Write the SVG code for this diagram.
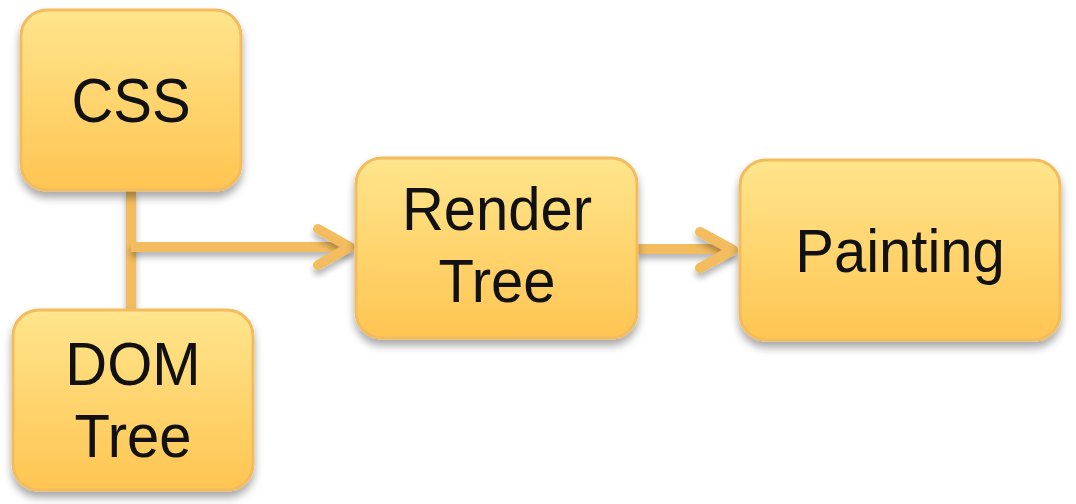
<svg xmlns="http://www.w3.org/2000/svg" width="1076" height="504" viewBox="0 0 1076 504">
<defs>
<linearGradient id="g" x1="0" y1="0" x2="0" y2="1">
<stop offset="0" stop-color="#FFE58C"/>
<stop offset="1" stop-color="#FFC552"/>
</linearGradient>
<filter id="sh" x="-10%" y="-10%" width="120%" height="130%">
<feGaussianBlur in="SourceAlpha" stdDeviation="4"/>
<feOffset dx="0" dy="6" result="b"/>
<feComponentTransfer><feFuncA type="linear" slope="0.35"/></feComponentTransfer>
<feMerge><feMergeNode/><feMergeNode in="SourceGraphic"/></feMerge>
</filter>
<filter id="shl" filterUnits="userSpaceOnUse" x="0" y="0" width="1076" height="504">
<feGaussianBlur in="SourceAlpha" stdDeviation="3"/>
<feOffset dx="0" dy="5" result="b"/>
<feComponentTransfer><feFuncA type="linear" slope="0.3"/></feComponentTransfer>
<feMerge><feMergeNode/><feMergeNode in="SourceGraphic"/></feMerge>
</filter>
</defs>
<style>
.box{fill:url(#g);stroke:#F2BC5E;stroke-width:3;filter:url(#sh)}
.t{font-family:"Liberation Sans",Arial,sans-serif;font-size:58px;fill:#111;text-anchor:middle}
.c{fill:none;stroke:#F2BC5E;stroke-width:10;stroke-linecap:butt;filter:url(#shl)}
.h{fill:none;stroke:#F2BC5E;stroke-width:10;stroke-linecap:round;stroke-linejoin:round;filter:url(#shl)}
</style>
<g id="connectors">
<path class="c" d="M131 190 V309"/>
<path class="c" d="M131 247 H350"/>
<path class="h" d="M318 229 L350 247 L318 265"/>
<path class="c" d="M637 249 H733"/>
<path class="h" d="M700 232 L733 250 L700 268"/>
</g>
<g id="css">
<rect class="box" x="21" y="10" width="220" height="180" rx="26"/>
<text class="t" transform="translate(131 122) scale(1 1.1)">CSS</text>
</g>
<g id="dom">
<rect class="box" x="13" y="310" width="240" height="180" rx="26"/>
<text class="t" transform="translate(133 385) scale(1 1.05)">DOM</text>
<text class="t" transform="translate(133 457) scale(1 1.05)">Tree</text>
</g>
<g id="render">
<rect class="box" x="356" y="158" width="281" height="180" rx="26"/>
<text class="t" transform="translate(497 230) scale(1 1.05)">Render</text>
<text class="t" transform="translate(497 302) scale(1 1.05)">Tree</text>
</g>
<g id="painting">
<rect class="box" x="740" y="160" width="320" height="180" rx="26"/>
<text class="t" transform="translate(900 272) scale(1 1.05)">Painting</text>
</g>
</svg>
